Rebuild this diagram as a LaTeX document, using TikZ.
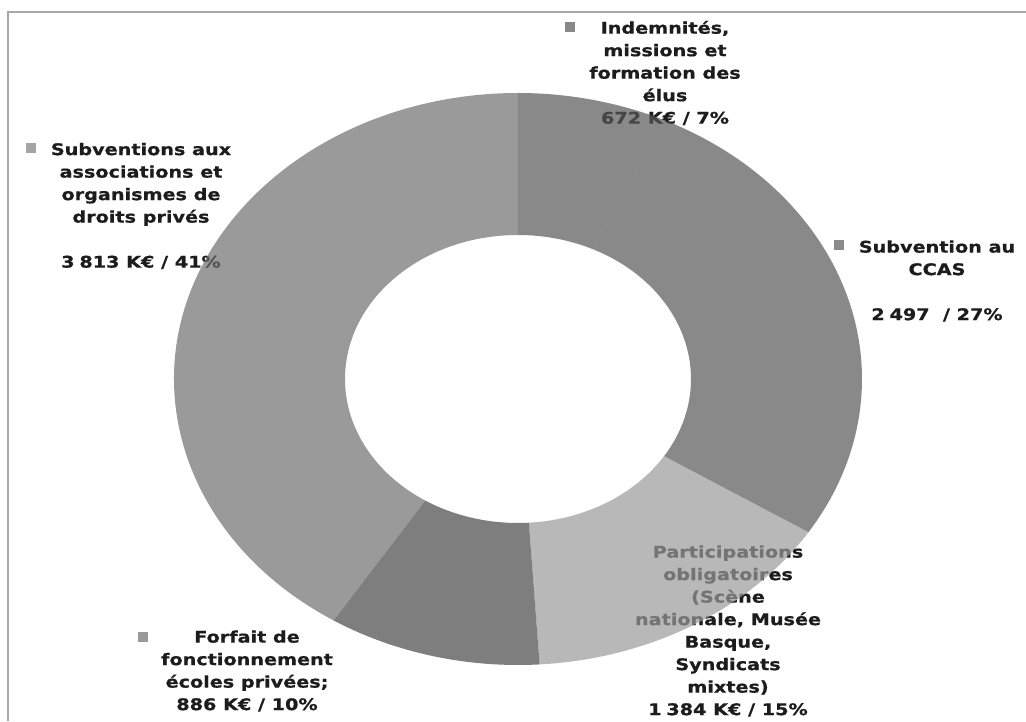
\documentclass[tikz,border=0pt]{standalone}
\usepackage{fontspec}
\newfontfamily\lbl{DejaVu Sans}[FakeStretch=1.2, BoldFeatures={FakeBold=0.7}]
\usetikzlibrary{calc}
\definecolor{frameC}{HTML}{A8A8A8}
\definecolor{txt}{HTML}{1C1C1C}
% ring fills (drawn at 70% opacity over white)
\definecolor{rInd}{HTML}{585858}
\definecolor{rCcas}{HTML}{585858}
\definecolor{rPart}{HTML}{9A9A9A}
\definecolor{rForf}{HTML}{484848}
\definecolor{rSub}{HTML}{707070}
% legend markers
\definecolor{mInd}{HTML}{898989}
\definecolor{mCcas}{HTML}{8B8B8B}
\definecolor{mForf}{HTML}{9A9A9A}
\definecolor{mSub}{HTML}{A5A5A5}
\newcommand\nsp{\hspace{0.3em}}
\newcommand\ringslice[3]{%
  \fill[#1, fill opacity=0.7] ($(C)+(#2:344 and 286)$)
    arc[start angle=#2, end angle=#3, x radius=344, y radius=286]
    -- ($(C)+(#3:173 and 144)$)
    arc[start angle=#3, end angle=#2, x radius=173, y radius=144] -- cycle;}
\begin{document}
\begin{tikzpicture}[x=1pt,y=1pt,
  lab/.style={align=center, text=txt, inner sep=0pt,
    font=\lbl\bfseries\fontsize{16}{22.5}\selectfont},
  mk/.style={minimum size=10pt, inner sep=0pt, fill=#1},
  frameline/.style={draw=frameC, line width=1.5pt}]
\useasboundingbox (0,0) rectangle (1026,721);
\fill[white] (0,0) rectangle (1026,721);
% frame
\coordinate (ftl) at (8,709);
\coordinate (ftr) at (1026,709);
\coordinate (fbl) at (8,0);
\draw[frameline] (ftr) -- (ftl) -- (fbl);
% labels
\node[lab] (ind) at (665,648) {Indemnités,\\missions et\\formation des\\élus\\672 K€ / 7\%};
\node[lab] (sub) at (141,515) {Subventions aux\\associations et\\organismes de\\droits privés\\[22.5pt]3\nsp813 K€ / 41\%};
\node[lab] (ccas) at (937,440) {Subvention au\\CCAS\\[22.5pt]2\nsp497 \ / 27\%};
\node[lab] (part) at (728,90) {Participations\\obligatoires\\(Scène\\nationale, Musée\\Basque,\\Syndicats\\mixtes)\\1\nsp384 K€ / 15\%};
\node[lab] (forf) at (247,50) {Forfait de\\fonctionnement\\écoles privées;\\886 K€ / 10\%};
% markers
\node[mk=mInd] (mind) at (570,694) {};
\node[mk=mSub] (msub) at (31,573) {};
\node[mk=mCcas] (mccas) at (839,476) {};
\node[mk=mForf] (mforf) at (143,84) {};
% ring
\coordinate (C) at (518,342);
\ringslice{rInd}{90}{64.8}
\ringslice{rCcas}{64.8}{-32.4}
\ringslice{rPart}{-32.4}{-86.4}
\ringslice{rForf}{-86.4}{-122.4}
\ringslice{rSub}{-122.4}{-270}
\end{tikzpicture}
\end{document}
